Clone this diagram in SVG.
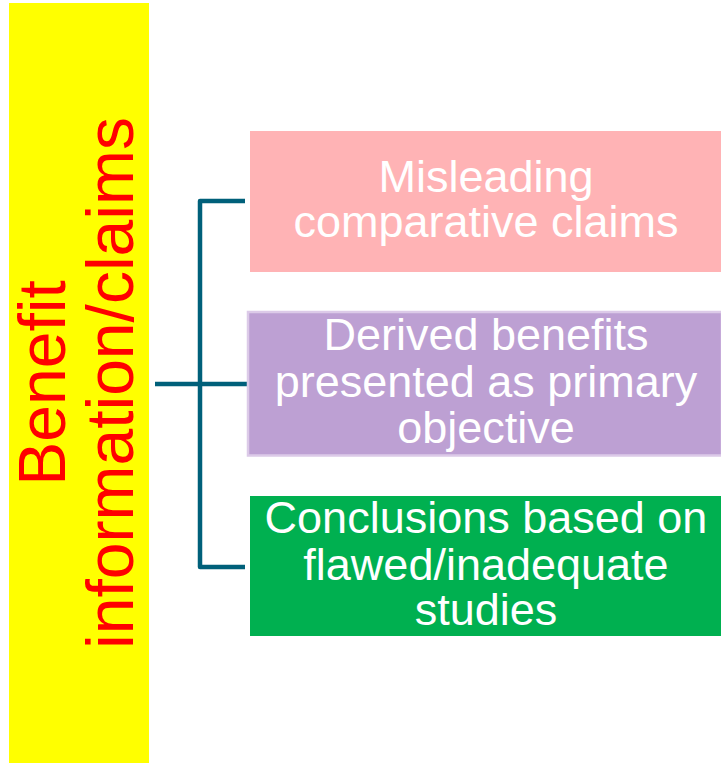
<svg xmlns="http://www.w3.org/2000/svg" width="721" height="763" viewBox="0 0 721 763">
  <style>
    .title { font-family: "Liberation Sans", Arial, sans-serif; font-size: 66px; fill: #ff0000; text-anchor: middle; }
    .label { font-family: "Liberation Sans", Arial, sans-serif; font-size: 45px; fill: #ffffff; text-anchor: middle; }
    .conn { fill: none; stroke: #00607a; stroke-width: 4.5; stroke-linejoin: round; stroke-linecap: butt; }
  </style>
  <rect x="0" y="0" width="721" height="763" fill="#ffffff"/>

  <g id="root">
    <rect x="9" y="3" width="140" height="760" fill="#ffff00"/>
    <g transform="translate(0,383) rotate(-90)">
      <text class="title" x="0" y="65">Benefit</text>
      <text class="title" x="0" y="133">information/claims</text>
    </g>
  </g>

  <g id="connectors">
    <path class="conn" d="M245,201 H200 V567 H245"/>
    <path class="conn" d="M155,384 H247"/>
  </g>

  <g id="misleading">
    <rect x="250" y="131" width="471" height="141" fill="#ffb3b5"/>
    <text class="label" x="486" y="192">Misleading</text>
    <text class="label" x="486" y="237">comparative claims</text>
  </g>

  <g id="derived">
    <rect x="248" y="312" width="474" height="143.5" fill="#bda0d3" stroke="#dccae8" stroke-width="2.5"/>
    <text class="label" x="486" y="350">Derived benefits</text>
    <text class="label" x="486" y="397">presented as primary</text>
    <text class="label" x="486" y="443">objective</text>
  </g>

  <g id="conclusions">
    <rect x="250" y="496" width="471" height="140" fill="#00b050"/>
    <text class="label" x="486" y="533">Conclusions based on</text>
    <text class="label" x="486" y="580">flawed/inadequate</text>
    <text class="label" x="486" y="625">studies</text>
  </g>
</svg>
